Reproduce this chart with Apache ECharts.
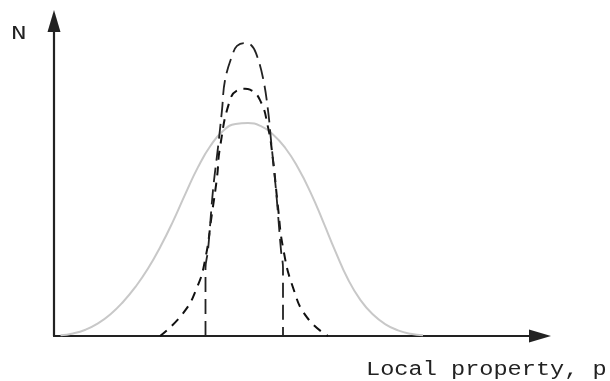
<!DOCTYPE html>
<html>
<head>
<meta charset="utf-8">
<script src="https://cdn.jsdelivr.net/npm/echarts@6/dist/echarts.min.js"></script>
<style>
  html, body { margin: 0; padding: 0; background: #fff; }
  #chart { width: 610px; height: 381px; }
</style>
</head>
<body>
<div id="chart"></div>
<script>
// Population spread over the local property p: [p, N] pairs
const broadCurve = [
  [1.5, 0.2], [4, 0.8], [6.5, 2.0], [9, 4.0], [11.5, 6.9], [14, 10.8],
  [16.5, 15.6], [19, 21.4], [21.5, 28.4], [24, 36.4], [26.5, 45.2], [29, 53.6],
  [31.5, 60.4], [34, 65.1], [36.5, 67.3], [39, 67.6], [41.5, 66.7], [44, 64.0],
  [46.5, 59.6], [49, 53.4], [51.5, 45.6], [54, 36.4], [56.5, 26.8], [59, 18.0],
  [61.5, 11.4], [64, 6.8], [66.5, 3.7], [69, 1.8], [71.5, 0.7], [74, 0.2]
];
const mediumCurve = [
  [21.4, 0], [26.0, 7.2], [28.8, 15.4], [30.4, 24.0], [31.8, 39.0],
  [32.8, 50.4], [33.4, 59.9], [35.4, 74.9], [37.0, 78.1], [38.4, 78.5],
  [39.4, 78.2], [41.4, 74.9], [43.0, 66.3], [44.0, 55.8], [45.0, 40.9],
  [46.0, 28.1], [48.0, 15.4], [50.8, 5.9], [55.0, 0]
];
const narrowCurve = [
  [30.5, 0], [30.5, 21.5], [31.0, 27.2], [32.0, 46.3], [33.0, 59.9],
  [33.8, 71.7], [34.4, 81.2], [36.0, 89.8], [36.8, 92.1], [38.2, 93.0],
  [39.6, 92.4], [40.6, 89.8], [42.0, 81.9], [43.0, 71.7], [43.6, 62.2],
  [44.6, 46.3], [45.6, 27.2], [46.0, 21.5], [46.0, 0]
];
const yAxisTitle = 'N';
const xAxisTitle = 'Local property, p';

const chart = echarts.init(document.getElementById('chart'), null, { renderer: 'canvas' });

const axisLine = {
  show: true,
  symbol: ['none', 'triangle'],
  symbolSize: [13, 22],
  lineStyle: { color: '#222', width: 2.2 }
};

chart.setOption({
  animation: false,
  backgroundColor: '#fff',
  grid: { left: 54, right: 70, top: 21, bottom: 45, containLabel: false },
  xAxis: {
    type: 'value', min: 0.2, max: 97.4,
    axisLine: axisLine,
    axisTick: { show: false }, axisLabel: { show: false }, splitLine: { show: false }
  },
  yAxis: {
    type: 'value', min: 0, max: 100,
    axisLine: axisLine,
    axisTick: { show: false }, axisLabel: { show: false }, splitLine: { show: false }
  },
  series: [
    {
      type: 'line', data: broadCurve, smooth: 0.5, symbol: 'none',
      lineStyle: { color: '#c8c8c8', width: 2 }, z: 1
    },
    {
      type: 'line', data: mediumCurve, smooth: 0.5, symbol: 'none',
      lineStyle: { color: '#111', width: 2, type: [9, 7] }, z: 2
    },
    {
      type: 'line', data: narrowCurve, smooth: 0.4, symbol: 'none',
      lineStyle: { color: '#222', width: 1.8, type: [15, 7] }, z: 3
    }
  ],
  graphic: [
    {
      type: 'text', x: 11, y: 34, scaleX: 1.3,
      style: {
        text: yAxisTitle, fontSize: 20, fontFamily: 'Liberation Mono',
        fill: '#222', verticalAlign: 'middle', align: 'left'
      }
    },
    {
      type: 'text', x: 366, y: 370, scaleX: 1.18,
      style: {
        text: xAxisTitle, fontSize: 20, fontFamily: 'Liberation Mono',
        fill: '#222', verticalAlign: 'middle', align: 'left'
      }
    }
  ]
});
</script>
</body>
</html>
